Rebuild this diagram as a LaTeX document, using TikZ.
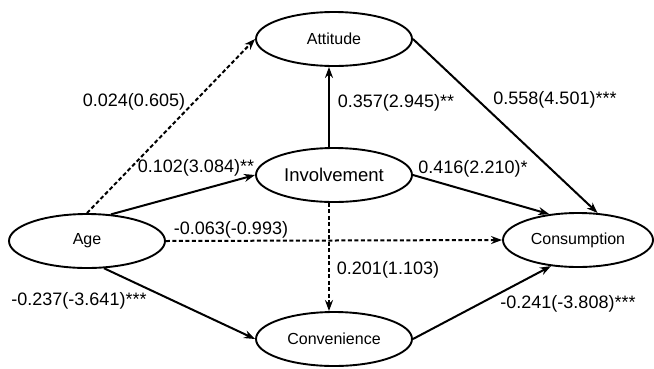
\documentclass[tikz,border=0pt]{standalone}
\usepackage{fontspec}
\setmainfont{Liberation Sans}
\usetikzlibrary{shapes.geometric,arrows.meta}

\begin{document}
\begin{tikzpicture}[x=1pt,y=-1pt,
    construct/.style={draw,ellipse,line width=1.9pt,minimum width=156pt,minimum height=54pt,inner sep=0pt,font=\fontsize{16}{18}\selectfont},
    effect/.style={line width=2pt,-{Stealth[length=11pt,width=8pt]}},
    weakeffect/.style={effect,dash pattern=on 4pt off 2.5pt},
    coef/.style={font=\fontsize{18}{20}\selectfont,inner sep=0pt}
  ]
    \useasboundingbox (0,0) rectangle (654,368);

    % Constructs
    \node[construct] (att) at (334,39) {Attitude};
    \node[construct,font=\fontsize{18.5}{20}\selectfont] (inv) at (334,175) {Involvement};
    \node[construct] (age) at (87,241) {Age};
    \node[construct,minimum width=150pt] (cons) at (578,240) {Consumption};
    \node[construct] (conv) at (334,339) {Convenience};

    % Paths (dashed = not significant)
    \draw[weakeffect] (age.north) -- (att.west);
    \draw[effect] (age.48) -- (inv.west);
    \draw[weakeffect] (age.east) -- (cons.west);
    \draw[effect] (age.-58) -- (conv.west);
    \draw[effect] ([xshift=-5pt]inv.north) -- ([xshift=-5pt]att.south);
    \draw[effect] (inv.east) -- (cons.138);
    \draw[weakeffect] ([xshift=-5pt]inv.south) -- ([xshift=-5pt]conv.north);
    \draw[effect] (att.east) -- (cons.54);
    \draw[effect] (conv.east) -- (cons.224);

    % Coefficients (t values)
    \node[coef] (c1) at (134,102) {0.024(0.605)};
    \node[coef] (c2) at (196,168) {0.102(3.084)**};
    \node[coef] (c3) at (231,230) {-0.063(-0.993)};
    \node[coef] (c4) at (79,301) {-0.237(-3.641)***};
    \node[coef] (c5) at (396,103) {0.357(2.945)**};
    \node[coef] (c6) at (555,100) {0.558(4.501)***};
    \node[coef] (c7) at (473,169) {0.416(2.210)*};
    \node[coef] (c8) at (388,270) {0.201(1.103)};
    \node[coef] (c9) at (568,304) {-0.241(-3.808)***};
\end{tikzpicture}
\end{document}
